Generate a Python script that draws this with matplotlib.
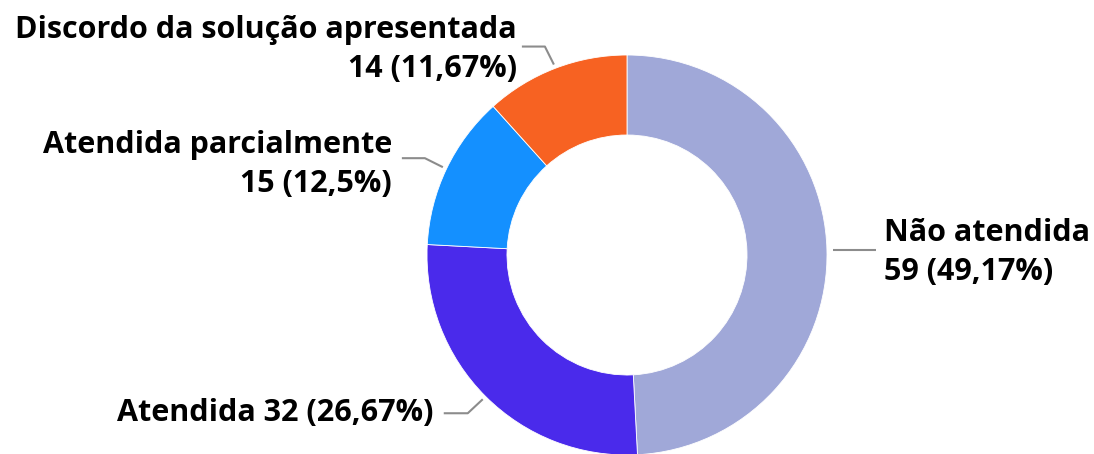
import numpy as np
import matplotlib.pyplot as plt

categorias = ['Não atendida', 'Atendida', 'Atendida parcialmente', 'Discordo da solução apresentada']
valores = [59, 32, 15, 14]
percentuais = ['49,17%', '26,67%', '12,5%', '11,67%']
cores = ['#A0A8D8', '#4A2AEB', '#1490FF', '#F76222']

fig = plt.figure(figsize=(10.94, 4.54), dpi=100)
ax = fig.add_axes([0, 0, 1, 1])

cx, cy, R = 627, 199, 200
wedges, _ = ax.pie(valores, colors=cores, startangle=90, counterclock=False,
                   radius=R, center=(cx, cy), frame=True,
                   wedgeprops=dict(width=R * 0.4, edgecolor='white', linewidth=0.6))
ax.set_xlim(0, 1094)
ax.set_ylim(0, 454)
ax.set_aspect('equal')
ax.axis('off')

# ajustes das linhas de chamada e rótulos
layout = [
    dict(elbow=(0, 0), horiz=43, text_dx=8, ha='left', dy=-3, two=True),
    dict(elbow=(-15, -14), horiz=-24, text_dx=-10, ha='right', dy=0, two=False),
    dict(elbow=(-18, 9), horiz=-23, text_dx=-10, ha='right', dy=-6, two=True),
    dict(elbow=(-9, 18), horiz=-23, text_dx=-5, ha='right', dy=-3, two=True),
]

for w, cat, v, p, lay in zip(wedges, categorias, valores, percentuais, layout):
    ang = np.deg2rad((w.theta1 + w.theta2) / 2)
    x0 = cx + R * 1.02 * np.cos(ang)
    y0 = cy + R * 1.02 * np.sin(ang)
    if cat == 'Não atendida':
        x0 = cx + R * 1.03
    x1, y1 = x0 + lay['elbow'][0], y0 + lay['elbow'][1]
    x2 = x1 + lay['horiz']
    ax.plot([x0, x1, x2], [y0, y1, y1], color='#8C8C8C', lw=1.5, solid_capstyle='butt')
    if lay['two']:
        txt = f'{cat}\n{v} ({p})'
    else:
        txt = f'{cat} {v} ({p})'
    ax.text(x2 + lay['text_dx'], y1 + lay['dy'], txt, ha=lay['ha'], va='center',
            multialignment=lay['ha'], fontsize=22, fontweight='bold',
            family='Open Sans', linespacing=1.38, color='black')

fig.savefig('out.png', dpi=100)
